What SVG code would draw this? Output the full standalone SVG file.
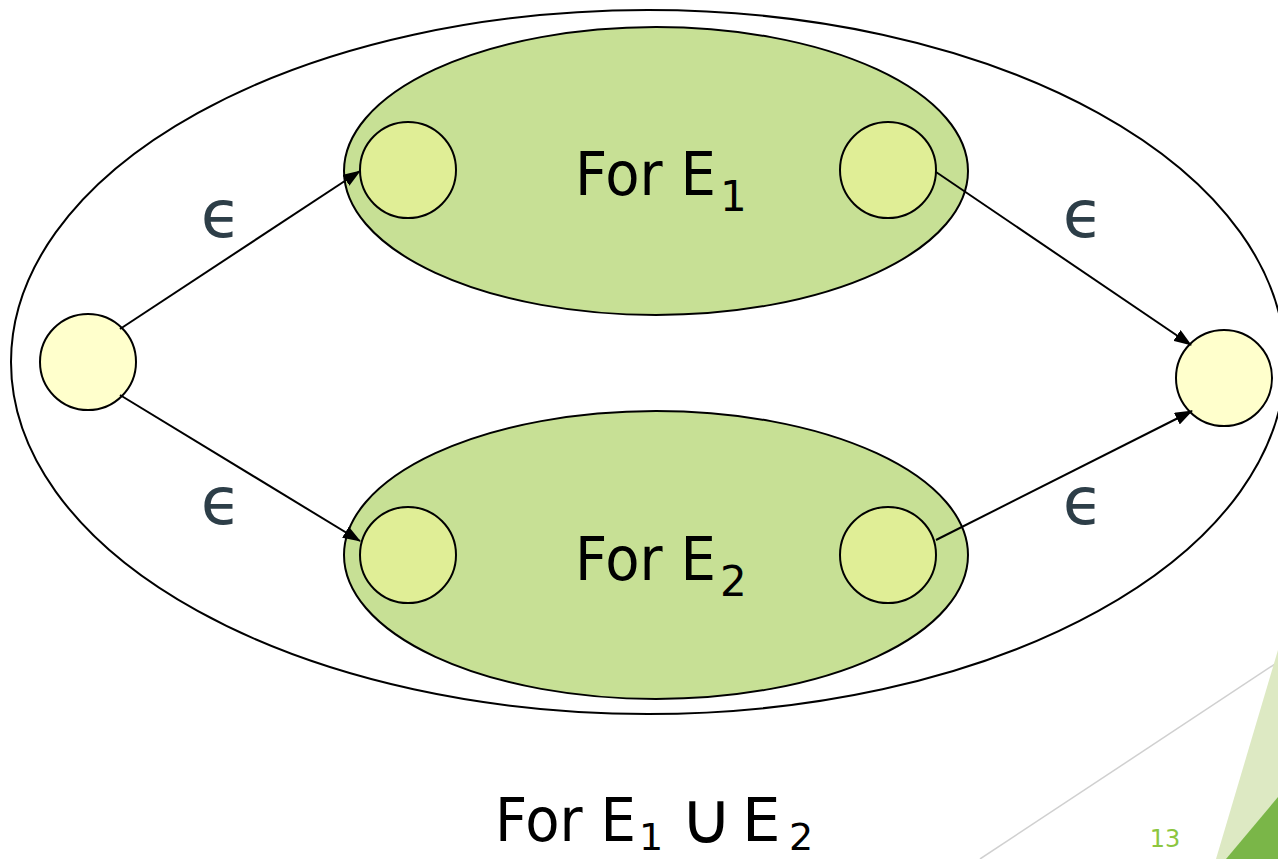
<svg xmlns="http://www.w3.org/2000/svg" width="1278" height="859" viewBox="0 0 1278 859">
<style>
.st{stroke:#000;stroke-width:2}
.big{font-family:"DejaVu Sans",Verdana,sans-serif;font-size:61px;fill:#000}
.sub{font-family:"DejaVu Sans",Verdana,sans-serif;font-size:42px;fill:#000}
.eps{font-family:"DejaVu Sans",sans-serif;font-size:66px;fill:#2d3e48}
.edge{stroke:#000;stroke-width:2;fill:none;marker-end:url(#ah)}
</style>
<defs>
<marker id="ah" viewBox="0 0 18 13" refX="17" refY="6.5" markerWidth="18" markerHeight="13" markerUnits="userSpaceOnUse" orient="auto">
<path d="M0,0 L18,6.5 L0,13 z" fill="#000"/>
</marker>
</defs>
<rect width="1278" height="859" fill="#fff"/>
<g id="decor">
<line x1="980" y1="859" x2="1278" y2="662" stroke="#d0d0d0" stroke-width="1.5"/>
<polygon points="1216,859 1278,650 1278,859" fill="#dde9c3"/>
<polygon points="1226,859 1278,797 1278,859" fill="#7ab648"/>
<text x="1165" y="847" font-family="Tahoma,'DejaVu Sans',sans-serif" font-size="24" fill="#8cc63f" text-anchor="middle">13</text>
</g>
<g id="outer"><ellipse cx="648" cy="362" rx="637" ry="352" fill="none" class="st"/></g>
<g id="E1">
<ellipse cx="656" cy="171" rx="312" ry="144" fill="#c7e095" class="st"/>
<text x="575" y="195" class="big" textLength="141" lengthAdjust="spacingAndGlyphs">For E</text><text x="720" y="211" class="sub">1</text>
</g>
<g id="E2">
<ellipse cx="656" cy="555" rx="312" ry="144" fill="#c7e095" class="st"/>
<text x="575" y="580" class="big" textLength="141" lengthAdjust="spacingAndGlyphs">For E</text><text x="720" y="596" class="sub">2</text>
</g>
<g id="s1"><circle cx="408" cy="170" r="48" fill="#e0ee96" class="st"/></g>
<g id="f1"><circle cx="888" cy="170" r="48" fill="#e0ee96" class="st"/></g>
<g id="s2"><circle cx="408" cy="555" r="48" fill="#e0ee96" class="st"/></g>
<g id="f2"><circle cx="888" cy="555" r="48" fill="#e0ee96" class="st"/></g>
<g id="start"><circle cx="88" cy="362" r="48" fill="#ffffcc" class="st"/></g>
<g id="end"><circle cx="1224" cy="378" r="48" fill="#ffffcc" class="st"/></g>
<g id="connectors">
<line x1="120" y1="329" x2="360" y2="171" class="edge"/>
<line x1="120" y1="395" x2="360" y2="541" class="edge"/>
<line x1="936" y1="172" x2="1191" y2="345" class="edge"/>
<line x1="936" y1="540" x2="1192" y2="411" class="edge"/>
<text x="221" y="237" class="eps" text-anchor="middle">ϵ</text>
<text x="221" y="524" class="eps" text-anchor="middle">ϵ</text>
<text x="1083" y="237" class="eps" text-anchor="middle">ϵ</text>
<text x="1083" y="524" class="eps" text-anchor="middle">ϵ</text>
</g>
<g id="caption">
<text x="495" y="841" class="big" textLength="141" lengthAdjust="spacingAndGlyphs">For E</text><text x="639" y="850" class="sub" style="font-size:38px">1</text>
<text x="706" y="843" class="big" style="font-size:72px;font-weight:200" text-anchor="middle">∪</text>
<text x="742" y="841" class="big">E</text><text x="789" y="850" class="sub" style="font-size:38px">2</text>
</g>
</svg>
